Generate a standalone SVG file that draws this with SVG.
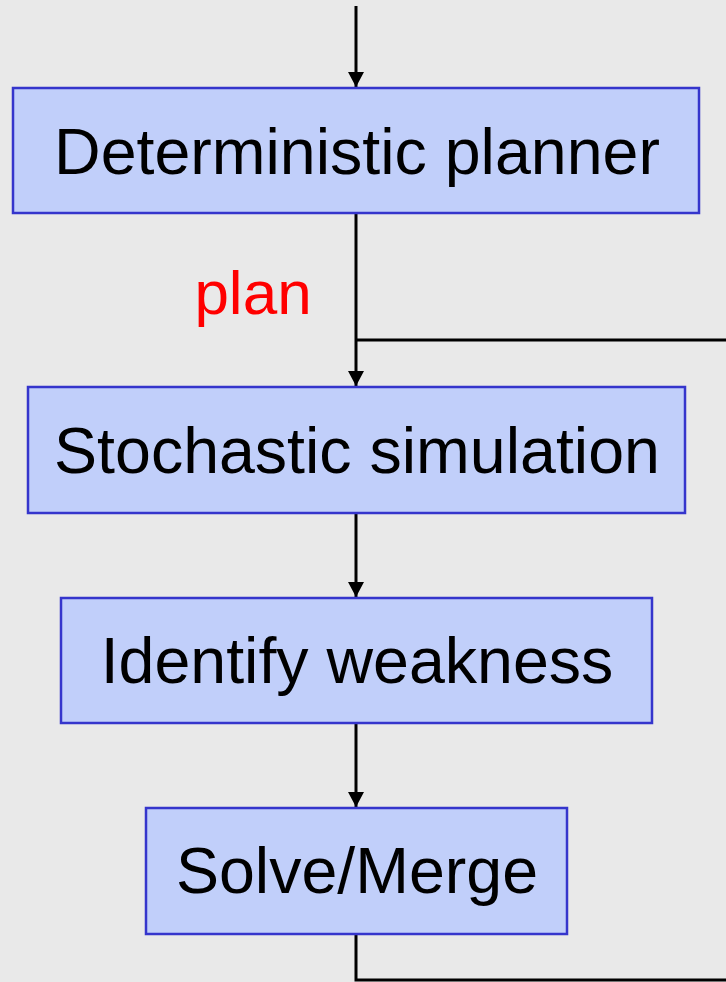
<svg xmlns="http://www.w3.org/2000/svg" width="726" height="982" viewBox="0 0 726 982">
<defs>
<style>
.box{fill:#c1cffa;stroke:#3535cc;stroke-width:2.5}
.lbl{font-family:"Liberation Sans",Arial,sans-serif;font-size:64.5px;fill:#000;text-anchor:middle}
.edge{fill:none;stroke:#000;stroke-width:3}
</style>
<marker id="ah" markerWidth="15" markerHeight="16" refX="15" refY="8" orient="auto" markerUnits="userSpaceOnUse" viewBox="0 0 15 16">
<path d="M0,0 L15,8 L0,16 Z" fill="#000"/>
</marker>
</defs>
<rect width="726" height="982" fill="#e9e9e9"/>
<g id="connectors">
<path class="edge" d="M356,6 V87" marker-end="url(#ah)"/>
<path class="edge" d="M356,213 V386" marker-end="url(#ah)"/>
<path class="edge" d="M356,340 H726"/>
<path class="edge" d="M356,513 V597" marker-end="url(#ah)"/>
<path class="edge" d="M356,723 V807" marker-end="url(#ah)"/>
<path class="edge" d="M356,934 V980 H726"/>
</g>
<g id="n1"><rect class="box" x="13" y="88" width="686" height="125"/><text class="lbl" x="357" y="174">Deterministic planner</text></g>
<g id="n2"><rect class="box" x="28" y="387" width="657" height="126"/><text class="lbl" x="357" y="473">Stochastic simulation</text></g>
<g id="n3"><rect class="box" x="61" y="598" width="591" height="125"/><text class="lbl" x="357" y="683">Identify weakness</text></g>
<g id="n4"><rect class="box" x="146" y="808" width="421" height="126"/><text class="lbl" x="357" y="893">Solve/Merge</text></g>
<text id="plan" x="253" y="314" font-family="Liberation Sans, Arial, sans-serif" font-size="62" fill="#ff0000" text-anchor="middle">plan</text>
</svg>
